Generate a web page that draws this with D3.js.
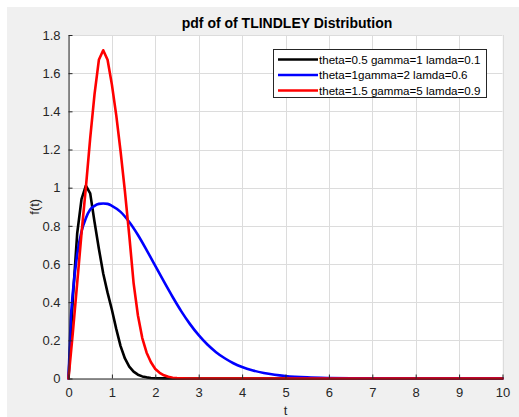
<!DOCTYPE html>
<html>
<head>
<meta charset="utf-8">
<script src="https://cdn.jsdelivr.net/npm/d3@7"></script>
<style>
  html, body { margin: 0; padding: 0; background: #ffffff; }
  svg { display: block; }
  text { font-family: "Liberation Sans", Arial, sans-serif; }
</style>
</head>
<body>
<svg id="chart" width="519" height="417"></svg>
<script>
// Sample points of each pdf curve: t values and f(t) values
const tBlack = [0, 0.1, 0.2, 0.3, 0.4, 0.5, 0.6, 0.7, 0.8, 0.9, 1.0, 1.1, 1.2, 1.3, 1.4, 1.5, 1.6, 1.7, 1.8, 1.9, 2.0, 2.2, 2.5, 3, 10];
const fBlack = [0, 0.42, 0.76, 0.94, 1.01, 0.97, 0.82, 0.68, 0.55, 0.45, 0.36, 0.26, 0.17, 0.105, 0.062, 0.036, 0.02, 0.011, 0.006, 0.003, 0.0015, 0.0004, 0.0001, 0, 0];

const tBlue = [0, 0.05, 0.1, 0.2, 0.3, 0.4, 0.5, 0.6, 0.7, 0.8, 0.9, 1.0, 1.2, 1.4, 1.6, 1.8, 2.0, 2.2, 2.4, 2.6, 2.8, 3.0, 3.2, 3.4, 3.6, 3.8, 4.0, 4.25, 4.5, 4.75, 5.0, 5.5, 6.0, 6.5, 7.0, 8.0, 10];
const fBlue = [0, 0.3, 0.45, 0.65, 0.77, 0.84, 0.885, 0.905, 0.915, 0.917, 0.915, 0.905, 0.873, 0.82, 0.752, 0.673, 0.59, 0.507, 0.427, 0.352, 0.285, 0.227, 0.178, 0.138, 0.106, 0.08, 0.06, 0.042, 0.029, 0.02, 0.0135, 0.006, 0.0027, 0.0012, 0.0005, 0.0001, 0];

const tRed = [0, 0.1, 0.2, 0.3, 0.4, 0.5, 0.6, 0.7, 0.8, 0.9, 1.0, 1.1, 1.2, 1.3, 1.4, 1.5, 1.6, 1.7, 1.8, 1.9, 2.0, 2.1, 2.2, 2.3, 2.4, 2.5, 2.6, 2.8, 10];
const fRed = [0, 0.24, 0.5, 0.76, 1.0, 1.26, 1.49, 1.67, 1.72, 1.67, 1.54, 1.38, 1.19, 0.98, 0.75, 0.5, 0.33, 0.212, 0.135, 0.085, 0.05, 0.03, 0.017, 0.009, 0.004, 0.002, 0.001, 0, 0];

const seriesNames = ["theta=0.5 gamma=1 lamda=0.1", "theta=1gamma=2 lamda=0.6", "theta=1.5 gamma=5 lamda=0.9"];
const seriesColors = ["#000000", "#0000ff", "#ff0000"];

const xTicks = [0, 1, 2, 3, 4, 5, 6, 7, 8, 9, 10];
const yTicks = [0, 0.2, 0.4, 0.6, 0.8, 1, 1.2, 1.4, 1.6, 1.8];

const titleText = "pdf of of TLINDLEY Distribution";
const xLabelText = "t";
const yLabelText = "f(t)";

const series = [
  { name: seriesNames[0], color: seriesColors[0], curve: d3.curveLinear, pts: tBlack.map((t, i) => [t, fBlack[i]]) },
  { name: seriesNames[1], color: seriesColors[1], curve: d3.curveMonotoneX, pts: tBlue.map((t, i) => [t, fBlue[i]]) },
  { name: seriesNames[2], color: seriesColors[2], curve: d3.curveLinear, pts: tRed.map((t, i) => [t, fRed[i]]) }
];

const svg = d3.select("#chart");
const axisColor = "#262626";

// figure background
svg.append("rect").attr("x", 7).attr("y", 7).attr("width", 512).attr("height", 410).attr("fill", "#f0f0f0");

const plot = { left: 68.5, right: 502.5, top: 35, bottom: 378.5 };
const x = d3.scaleLinear().domain([0, 10]).range([plot.left, plot.right]);
const y = d3.scaleLinear().domain([0, 1.8]).range([plot.bottom, plot.top]);

// plotting area
svg.append("rect")
  .attr("x", plot.left).attr("y", plot.top)
  .attr("width", plot.right - plot.left).attr("height", plot.bottom - plot.top)
  .attr("fill", "#ffffff");

// grid
const grid = svg.append("g").attr("stroke", "#dcdcdc").attr("stroke-width", 1);
xTicks.forEach(t => {
  grid.append("line").attr("x1", Math.round(x(t)) + 0.5).attr("x2", Math.round(x(t)) + 0.5)
    .attr("y1", plot.top).attr("y2", plot.bottom);
});
yTicks.forEach(v => {
  grid.append("line").attr("y1", Math.round(y(v)) + 0.5).attr("y2", Math.round(y(v)) + 0.5)
    .attr("x1", plot.left).attr("x2", plot.right);
});

// curves
series.forEach(s => {
  const line = d3.line().curve(s.curve).x(d => x(d[0])).y(d => y(d[1]));
  svg.append("path").datum(s.pts)
    .attr("d", line)
    .attr("fill", "none")
    .attr("stroke", s.color)
    .attr("stroke-width", 2.6)
    .attr("stroke-linejoin", "round")
    .attr("stroke-linecap", "round");
});

// axes (ticks pointing inward)
const xAxis = d3.axisBottom(x).tickValues(xTicks).tickSizeInner(-4).tickSizeOuter(0).tickPadding(9).tickFormat(d3.format("d"));
const gx = svg.append("g").attr("transform", `translate(0,${plot.bottom})`).call(xAxis);
const yAxis = d3.axisLeft(y).tickValues(yTicks).tickSizeInner(-4).tickSizeOuter(0).tickPadding(8).tickFormat(d => d === 0 || d === 1 ? String(d) : d3.format(".1f")(d));
const gy = svg.append("g").attr("transform", `translate(${plot.left},0)`).call(yAxis);
[gx, gy].forEach(g => {
  g.select(".domain").attr("stroke", axisColor);
  g.selectAll(".tick line").attr("stroke", axisColor);
  g.selectAll(".tick text").attr("fill", axisColor).attr("font-size", 13)
    .attr("font-family", "'Liberation Sans', Arial, sans-serif");
});

// title and axis labels
svg.append("text").attr("x", 287).attr("y", 28).attr("text-anchor", "middle")
  .attr("font-size", 14).attr("font-weight", "bold").attr("fill", "#000").text(titleText);
svg.append("text").attr("x", x(5)).attr("y", 415).attr("text-anchor", "middle")
  .attr("font-size", 13).attr("fill", axisColor).text(xLabelText);
svg.append("text").attr("transform", `translate(39,${(plot.top + plot.bottom) / 2}) rotate(-90)`)
  .attr("text-anchor", "middle").attr("font-size", 13).attr("fill", axisColor).text(yLabelText);

// legend
const legend = svg.append("g");
legend.append("rect").attr("x", 273.5).attr("y", 49.5).attr("width", 213).attr("height", 48)
  .attr("fill", "#ffffff").attr("stroke", axisColor).attr("stroke-width", 1);
series.forEach((s, i) => {
  const cy = 59.5 + i * 15.5;
  legend.append("line").attr("x1", 278).attr("x2", 318).attr("y1", cy).attr("y2", cy)
    .attr("stroke", s.color).attr("stroke-width", 2.6);
  legend.append("text").attr("x", 319).attr("y", cy + 4).attr("font-size", 11.6)
    .attr("fill", "#000").text(s.name);
});
</script>
</body>
</html>
